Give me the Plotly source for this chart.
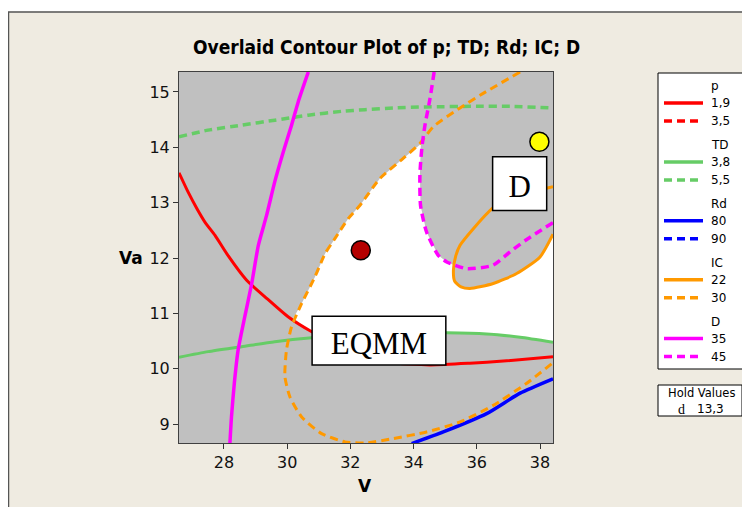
import plotly.graph_objects as go

# ---- data (V, Va) ----
p19_v  = [26.58, 26.87, 27.14, 27.40, 27.72, 28.09, 28.72, 29.30, 30.03, 30.78, 31.99, 33.25, 34.52, 35.78, 36.84, 38.41]
p19_va = [13.54, 13.19, 12.90, 12.65, 12.41, 12.08, 11.60, 11.30, 10.94, 10.67, 10.34, 10.12, 10.07, 10.10, 10.14, 10.22]

td38_v  = [26.58, 27.50, 28.56, 29.61, 30.78, 32.94, 35.05, 36.31, 37.37, 38.41]
td38_va = [10.21, 10.31, 10.40, 10.49, 10.56, 10.64, 10.65, 10.63, 10.57, 10.48]

td55_v  = [26.58, 27.50, 28.56, 29.61, 30.67, 31.73, 32.46, 33.36, 34.41, 36.00, 37.05, 38.41]
td55_va = [14.19, 14.31, 14.40, 14.49, 14.58, 14.65, 14.68, 14.71, 14.73, 14.74, 14.74, 14.71]

rd80_v  = [33.94, 34.94, 36.31, 37.37, 38.41]
rd80_va = [8.65, 8.86, 9.19, 9.56, 9.82]

ic22_v  = [38.41, 37.37, 36.73, 36.50, 35.89, 35.47, 35.33, 35.26, 35.30, 35.50, 35.78, 36.52, 37.26, 38.00, 38.41]
ic22_va = [13.29, 13.14, 12.99, 12.90, 12.53, 12.23, 12.03, 11.78, 11.58, 11.48, 11.45, 11.54, 11.72, 12.02, 12.43]

ic30_v  = [37.37, 36.10, 35.47, 34.62, 34.20, 33.67, 32.94, 32.30, 31.93, 31.51, 31.20, 30.88, 30.46, 30.14,
           29.98, 29.93, 30.09, 30.46, 31.09, 31.83, 32.46, 33.36, 34.41, 35.47, 36.52, 37.58, 38.41]
ic30_va = [15.36, 14.94, 14.71, 14.37, 14.07, 13.80, 13.44, 12.95, 12.71, 12.35, 12.08, 11.66, 11.18, 10.76,
           10.34, 9.86, 9.49, 9.13, 8.83, 8.68, 8.66, 8.74, 8.86, 9.04, 9.34, 9.74, 10.11]

d35_v  = [30.67, 30.35, 30.14, 29.88, 29.61, 29.35, 29.09, 28.88, 28.66, 28.45, 28.33, 28.24, 28.19]
d35_va = [15.36, 14.82, 14.40, 13.92, 13.38, 12.77, 12.23, 11.54, 10.94, 10.34, 9.74, 9.13, 8.65]

d45_v  = [34.65, 34.52, 34.36, 34.26, 34.20, 34.22, 34.41, 34.78, 35.05, 35.68, 36.51, 37.05, 37.59, 38.41]
d45_va = [15.36, 14.88, 14.40, 13.98, 13.50, 12.95, 12.47, 12.05, 11.93, 11.81, 11.87, 12.11, 12.34, 12.64]

# white (feasible) region outline
feas_v  = [30.19, 30.46, 30.88, 31.20, 31.51, 31.93, 32.30, 32.94, 33.67, 34.23, 34.20, 34.22, 34.41, 34.78,
           35.05, 35.29, 35.26, 35.30, 35.50, 35.78, 36.52, 37.26, 38.00, 38.41, 38.41, 37.37, 36.31,
           35.05, 32.94, 30.95, 30.78, 30.19]
feas_va = [10.91, 11.18, 11.66, 12.08, 12.35, 12.71, 12.95, 13.44, 13.80, 14.06, 13.50, 12.95, 12.47, 12.05,
           11.93, 11.87, 11.78, 11.58, 11.48, 11.45, 11.54, 11.72, 12.02, 12.43, 10.48, 10.57, 10.63,
           10.65, 10.64, 10.58, 10.67, 10.91]

point_v  = [32.33, 37.98]
point_va = [12.14, 14.10]
point_colors = ["#B40000", "#FFFF00"]

x_ticks = [28, 30, 32, 34, 36, 38]
y_ticks = [9, 10, 11, 12, 13, 14, 15]

legend_groups = ["p", "TD", "Rd", "IC", "D"]
legend_levels = [["1,9", "3,5"], ["3,8", "5,5"], ["80", "90"], ["22", "30"], ["35", "45"]]
legend_colors = ["#FF0000", "#66CC66", "#0000FF", "#FF9900", "#FF00FF"]
hold_name = "d"
hold_value = "13,3"

BEIGE = "#EFEBE1"
GRAY = "#C0C0C0"

# the page adds an 8px body margin, so the figure is 742x499 and sits at (8, 8).
# helpers take page pixels; plot area on the page: x 179..553, y 72..443
def px(x):
    return (x - 179) / 374.0

def py(y):
    return (443 - y) / 371.0

fig = go.Figure()

fig.add_trace(go.Scatter(x=feas_v, y=feas_va, mode="lines", fill="toself",
                         fillcolor="white", line=dict(width=0), hoverinfo="skip"))

curves = [
    (p19_v, p19_va, legend_colors[0], "solid", 3),
    (td38_v, td38_va, legend_colors[1], "solid", 3),
    (td55_v, td55_va, legend_colors[1], "8px,5px", 3.5),
    (rd80_v, rd80_va, legend_colors[2], "solid", 3.5),
    (ic22_v, ic22_va, legend_colors[3], "solid", 3),
    (ic30_v, ic30_va, legend_colors[3], "8px,5px", 3),
    (d35_v, d35_va, legend_colors[4], "solid", 3.5),
    (d45_v, d45_va, legend_colors[4], "8px,5px", 3.5),
]
for xs, ys, col, dash, w in curves:
    fig.add_trace(go.Scatter(x=xs, y=ys, mode="lines",
                             line=dict(color=col, width=w, dash=dash, shape="spline", smoothing=0.6)))

fig.add_trace(go.Scatter(x=point_v, y=point_va, mode="markers",
                         marker=dict(size=19, color=point_colors, line=dict(color="black", width=1.5))))

shapes = [
    # white strip above the frame, then the frame border
    dict(type="rect", xref="paper", yref="paper", x0=px(0), x1=px(760), y0=py(11.5), y1=py(-5),
         fillcolor="white", line=dict(width=0)),
    dict(type="rect", xref="paper", yref="paper", x0=px(8.5), x1=px(770), y0=py(530), y1=py(12),
         fillcolor="rgba(0,0,0,0)", line=dict(color="#555555", width=1.5)),
    # annotation boxes on the plot
    dict(type="rect", xref="x", yref="y", x0=30.79, x1=35.02, y0=10.07, y1=10.95,
         fillcolor="white", line=dict(color="black", width=1.5),
         label=dict(text="EQMM", font=dict(family="Liberation Serif", size=31, color="black"))),
    dict(type="rect", xref="x", yref="y", x0=36.50, x1=38.21, y0=12.86, y1=13.83,
         fillcolor="white", line=dict(color="black", width=1.5),
         label=dict(text="D", font=dict(family="Liberation Serif", size=31, color="black"))),
    # legend boxes
    dict(type="rect", xref="paper", yref="paper", x0=px(658), x1=px(746), y0=py(369), y1=py(73),
         fillcolor="white", line=dict(color="black", width=1)),
    dict(type="rect", xref="paper", yref="paper", x0=px(658), x1=px(742), y0=py(416), y1=py(385),
         fillcolor="white", line=dict(color="black", width=1)),
]

annotations = [
    dict(text="<b>Overlaid Contour Plot of p; TD; Rd; IC; D</b>", x=px(386), y=py(47),
         font=dict(family="DejaVu Sans Condensed, DejaVu Sans", size=19, color="black")),
    dict(text="<b>V</b>", x=px(365), y=py(486), font=dict(family="DejaVu Sans", size=17, color="black")),
    dict(text="<b>Va</b>", x=px(131), y=py(258), font=dict(family="DejaVu Sans", size=17, color="black")),
    dict(text="Hold Values", x=px(701), y=py(393), font=dict(family="DejaVu Sans", size=11.5, color="black")),
    dict(text=hold_name, x=px(681), y=py(409.5), font=dict(family="Liberation Serif", size=14, color="black")),
    dict(text=hold_value, x=px(696), y=py(409), xanchor="left",
         font=dict(family="DejaVu Sans", size=12, color="black")),
]

leg_font = dict(family="DejaVu Sans", size=12, color="black")
for g, name in enumerate(legend_groups):
    ty = 86 + g * 58.9
    annotations.append(dict(text=name, x=px(710), y=py(ty), xanchor="left", font=leg_font))
    for k, lab in enumerate(legend_levels[g]):
        iy = ty + 17 + k * 18
        annotations.append(dict(text=lab, x=px(710), y=py(iy), xanchor="left", font=leg_font))
        shapes.append(dict(type="line", xref="paper", yref="paper", x0=px(664), x1=px(703),
                           y0=py(iy), y1=py(iy),
                           line=dict(color=legend_colors[g], width=3.5,
                                     dash="solid" if k == 0 else "8px,5px")))

for a in annotations:
    a.setdefault("xref", "paper")
    a.setdefault("yref", "paper")
    a.setdefault("showarrow", False)
    a.setdefault("xanchor", "center")
    a.setdefault("yanchor", "middle")
    a.setdefault("borderpad", 0)

fig.update_xaxes(range=[26.58, 38.41], tickvals=x_ticks, ticks="outside", ticklen=5,
                 tickcolor="#333333", showgrid=False, zeroline=False, showline=True, mirror=True,
                 linecolor="#404040", linewidth=1,
                 tickfont=dict(family="DejaVu Sans", size=16, color="#111111"))
fig.update_yaxes(range=[8.66, 15.36], tickvals=y_ticks, ticks="outside", ticklen=5,
                 tickcolor="#333333", showgrid=False, zeroline=False, showline=True, mirror=True,
                 linecolor="#404040", linewidth=1,
                 tickfont=dict(family="DejaVu Sans", size=16, color="#111111"))

fig.update_layout(width=742, height=499, margin=dict(l=171, r=197, t=64, b=64),
                  paper_bgcolor=BEIGE, plot_bgcolor=GRAY, showlegend=False,
                  shapes=shapes, annotations=annotations)

fig.write_html("out.html")
